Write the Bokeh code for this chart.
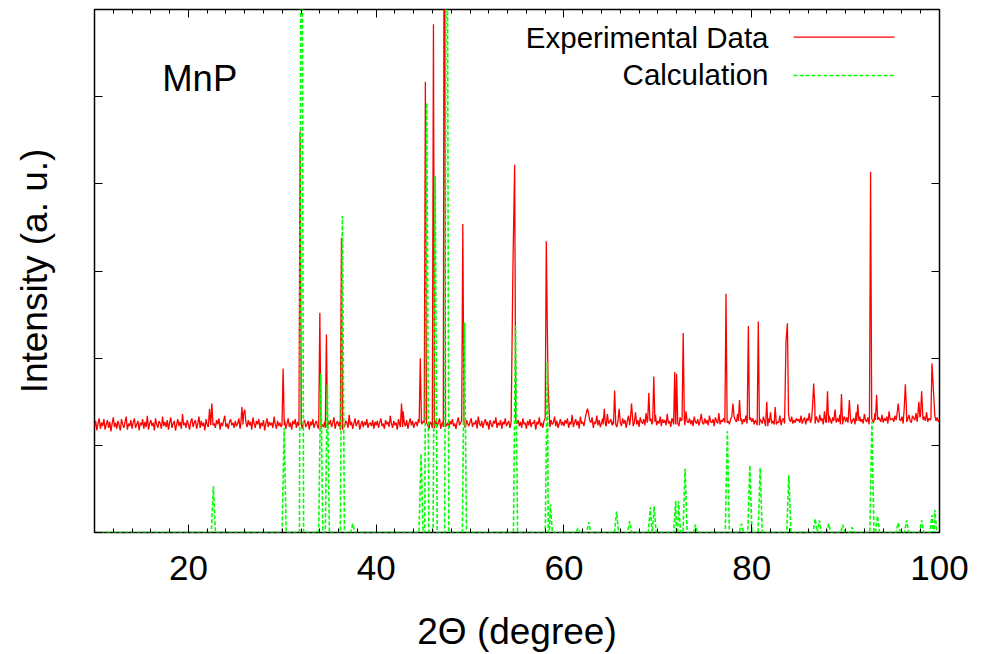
from bokeh.plotting import figure
from bokeh.models import Range1d, LinearAxis, SingleIntervalTicker, Label, ColumnDataSource
from bokeh.embed import file_html
from bokeh.resources import INLINE

FONT = "Liberation Sans"

# ---------------- data ----------------
# experimental background (noise) sampled every 0.125 deg from 10 to 100
noise_start = 10.0
noise_step = 0.125
exp_noise = [
    121,128,117,125,131,119,126,122,130,118,124,129,120,127,116,125,132,121,126,119,128,123,117,130,124,120,127,133,118,125,122,129,119,126,131,120,124,128,117,126,
    123,130,119,127,121,134,118,125,129,122,126,117,131,124,120,128,125,119,133,122,127,121,129,118,126,132,120,125,128,117,124,130,122,127,119,136,123,126,120,129,
    124,118,127,131,121,126,129,119,125,133,120,128,122,126,117,130,124,121,142,127,123,138,125,120,129,124,131,118,126,122,128,134,121,125,119,127,130,123,126,120,
    128,122,125,131,119,127,124,136,141,126,121,129,123,127,118,132,125,120,128,124,130,119,126,122,129,117,125,131,121,127,123,126,120,133,124,119,128,122,126,121,
    127,123,129,119,125,131,121,126,118,128,124,130,120,127,122,125,133,119,126,129,121,124,128,118,127,123,130,120,125,128,122,126,119,131,124,121,127,125,120,128,
    124,129,121,126,132,119,125,128,122,127,118,130,124,121,128,126,120,135,123,127,119,125,131,122,126,129,118,124,128,121,127,123,130,120,125,126,122,129,119,127,
    123,128,120,126,131,122,125,119,129,124,127,121,134,125,120,128,123,126,118,130,124,127,121,139,125,122,129,119,126,131,123,128,120,125,127,122,130,121,126,124,
    128,121,126,130,123,119,127,125,129,120,124,128,122,126,131,119,125,127,121,129,123,126,120,128,124,130,122,125,119,127,132,123,126,121,128,124,120,129,125,122,
    127,131,121,126,124,129,119,133,125,122,128,120,126,130,123,127,118,129,124,121,128,125,132,120,126,123,129,119,127,124,131,122,125,128,120,126,130,123,127,121,
    125,129,122,127,120,131,124,126,119,128,123,130,121,126,125,129,118,127,124,132,122,126,120,128,125,131,123,127,121,129,124,126,133,122,128,120,125,130,123,127,
    122,129,125,131,120,127,124,135,121,126,130,123,128,119,133,125,127,122,130,124,137,121,128,126,132,120,127,125,134,123,129,121,126,131,124,128,122,136,125,127,
    130,123,128,124,133,121,127,142,126,122,131,125,129,120,128,134,123,127,130,122,126,138,124,129,121,132,127,125,130,123,137,126,128,122,131,124,129,127,135,123,
    128,125,133,122,130,126,129,123,136,125,128,121,131,127,124,134,126,129,122,132,128,125,130,123,139,127,126,131,124,129,122,133,127,125,130,123,128,136,126,124,
    131,125,129,123,134,127,126,130,122,132,128,125,137,124,129,127,131,123,126,135,128,124,130,126,133,122,129,127,136,125,128,131,124,130,127,134,125,129,123,132,
    127,131,124,129,126,135,123,130,128,125,133,127,129,122,131,126,138,125,128,130,124,132,127,126,134,123,129,131,125,128,136,124,130,127,133,125,129,126,131,128,
    130,126,134,125,129,132,124,131,128,137,126,130,127,145,125,133,129,126,135,128,131,124,139,127,130,126,134,129,125,132,128,141,126,131,127,135,124,130,129,133,
    127,132,126,130,135,125,129,131,124,138,128,126,133,127,130,125,136,129,127,132,124,131,134,128,126,137,129,125,132,130,127,135,126,131,128,133,125,139,129,130,
    131,127,134,129,126,136,130,128,133,125,131,142,127,130,135,128,126,134,131,129,137,127,132,130,126,135,129,133,128,138,127,131,129,136,130,126,134,128,132,127,
    130,
]

# experimental peaks (2theta, intensity)
exp_peak_pos = [22.5, 25.7, 30.09, 31.9, 34.0, 34.7, 36.3, 42.7, 44.7, 45.24, 46.1, 47.27,
                49.23, 54.75, 58.12, 62.5, 64.3, 65.4, 67.2, 69.04, 69.57, 71.8, 72.0,
                72.7, 77.26, 78.0, 78.7, 79.64, 80.7, 81.6, 82.5, 83.8, 86.6, 88.07,
                89.56, 90.4, 91.3, 92.66, 93.3, 95.6, 96.36, 97.8, 98.1, 99.2]
exp_peak_height = [148, 144, 188, 460, 252, 227, 338, 148, 200, 517, 583, 1000,
                   354, 422, 334, 142, 142, 163, 148, 160, 179, 184, 182,
                   229, 274, 148, 152, 237, 242, 150, 144, 240, 171, 162,
                   159, 152, 147, 414, 158, 148, 170, 150, 162, 194]
# experimental shoulders (2theta, intensity)
exp_shoulder_pos = [54.57, 58.3, 83.65, 99.35]
exp_shoulder_height = [307, 172, 219, 164]

# calculated pattern peaks (2theta, intensity)
calc_peak_pos = [22.66, 30.2, 32.05, 34.1, 34.8, 36.4, 37.5, 44.78, 45.39, 46.28, 47.52,
                 49.4, 54.84, 58.23, 58.55, 61.5, 62.64, 65.6, 67.0, 69.2, 69.6, 71.9,
                 72.2, 72.9, 74.0, 77.4, 78.9, 79.8, 80.9, 83.95, 86.75, 87.2, 88.2,
                 89.7, 90.7, 92.8, 93.4, 95.6, 96.5, 98.1, 99.2, 99.5]
calc_peak_height = [53, 120, 1000, 182, 170, 363, 10, 90, 493, 409, 1000,
                    241, 237, 196, 32, 5, 12, 24, 13, 29, 30, 36,
                    36, 73, 9, 116, 10, 77, 74, 66, 16, 14, 10,
                    9, 6, 127, 19, 11, 14, 14, 20, 26]

# ---------------- build the line series from the read values ----------------
EXP_HW = 0.12
CALC_HW = 0.22

noise_x = [noise_start + noise_step * i for i in range(len(exp_noise))]
special = exp_peak_pos + exp_shoulder_pos
ex, ey = [], []
for x, y in zip(noise_x, exp_noise):
    if all(abs(x - s) > EXP_HW + 0.02 for s in special):
        ex.append(x); ey.append(y)

def nearest_noise(pos):
    i = min(range(len(noise_x)), key=lambda k: abs(noise_x[k] - pos))
    return exp_noise[i]

for pos, h in zip(exp_peak_pos, exp_peak_height):
    base = nearest_noise(pos)
    left_sh = any(pos - 0.3 < s < pos for s in exp_shoulder_pos)
    right_sh = any(pos < s < pos + 0.3 for s in exp_shoulder_pos)
    if not left_sh:
        ex.append(pos - EXP_HW); ey.append(base)
    ex.append(pos); ey.append(h)
    if not right_sh:
        ex.append(pos + EXP_HW); ey.append(base)
for pos, h in zip(exp_shoulder_pos, exp_shoulder_height):
    ex.append(pos); ey.append(h)
order = sorted(range(len(ex)), key=lambda k: ex[k])
exp_src = ColumnDataSource(dict(x=[ex[k] for k in order], y=[ey[k] for k in order]))

cx, cy = [10.0, 100.0], [0, 0]
for pos, h in zip(calc_peak_pos, calc_peak_height):
    cx += [pos - CALC_HW, pos, pos + CALC_HW]
    cy += [0, h, 0]
order = sorted(range(len(cx)), key=lambda k: cx[k])
calc_src = ColumnDataSource(dict(x=[cx[k] for k in order], y=[cy[k] for k in order]))

# ---------------- figure ----------------
p = figure(width=989, height=654, x_range=Range1d(10, 100), y_range=Range1d(0, 600),
           output_backend="svg", toolbar_location=None,
           min_border_left=94, min_border_right=50, min_border_top=9, min_border_bottom=122,
           x_axis_label="2Θ (degree)", y_axis_label="Intensity (a. u.)")
p.grid.visible = False
p.outline_line_color = "black"
p.outline_line_width = 1.5
p.background_fill_color = "white"
p.border_fill_color = "white"

xt = SingleIntervalTicker(interval=20, num_minor_ticks=10)
yt = SingleIntervalTicker(interval=100, num_minor_ticks=0)

def style(ax, labels):
    ax.axis_line_color = None
    ax.major_tick_in = 8
    ax.major_tick_out = 0
    ax.minor_tick_in = 4
    ax.minor_tick_out = 0
    ax.major_tick_line_color = "black"
    ax.minor_tick_line_color = "black"
    ax.major_tick_line_width = 1
    ax.minor_tick_line_width = 1
    ax.major_label_text_font = FONT
    ax.axis_label_text_font = FONT
    ax.axis_label_text_font_style = "normal"
    ax.axis_label_text_color = "black"
    ax.axis_label_text_font_size = "37px"
    if labels:
        ax.major_label_text_font_size = "35px"
        ax.major_label_text_color = "black"
    else:
        ax.major_label_text_font_size = "1px"
        ax.major_label_text_color = None
        ax.major_label_standoff = 0

bx = p.xaxis[0]
bx.ticker = xt
style(bx, True)
bx.major_label_standoff = 23
bx.axis_label_standoff = 28

ly = p.yaxis[0]
ly.ticker = yt
style(ly, False)
ly.axis_label_standoff = 40

top = LinearAxis(ticker=xt)
style(top, False)
p.add_layout(top, "above")
right = LinearAxis(ticker=yt)
style(right, False)
p.add_layout(right, "right")

p.line("x", "y", source=exp_src, line_color="#ff0000", line_width=1.3)
p.line("x", "y", source=calc_src, line_color="#00ff00", line_width=1.6, line_dash="4 2")

# legend (gnuplot style: text on the left, sample on the right)
p.add_layout(Label(x=81.79, y=568.0, text="Experimental Data", text_align="right",
                   text_baseline="alphabetic", text_font=FONT, text_font_size="29.5px",
                   text_color="black"))
p.add_layout(Label(x=81.79, y=525.5, text="Calculation", text_align="right",
                   text_baseline="alphabetic", text_font=FONT, text_font_size="29.5px",
                   text_color="black"))
p.line([84.45, 95.21], [568.2, 568.2], line_color="#ff0000", line_width=1.2)
p.line([84.45, 95.21], [524.3, 524.3], line_color="#00ff00", line_width=1.6, line_dash="4 2")

p.add_layout(Label(x=17.21, y=521.0, text="MnP", text_align="left", text_baseline="alphabetic",
                   text_font=FONT, text_font_size="36.5px", text_color="black"))

open("out.html", "w").write(file_html(p, INLINE))
